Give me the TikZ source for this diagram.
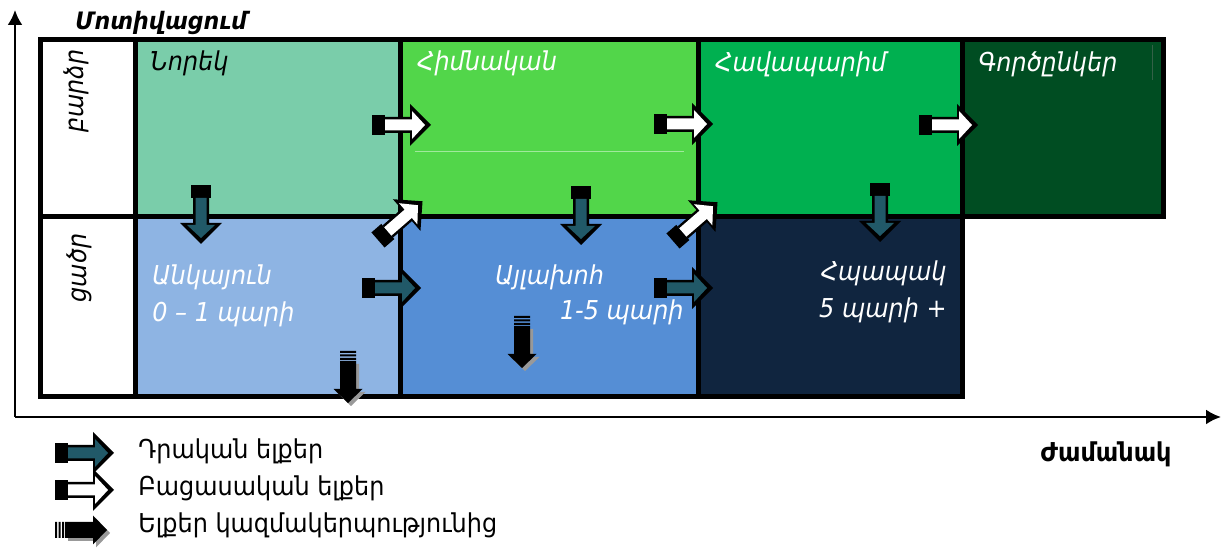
\documentclass[tikz,border=0pt]{standalone}
\usepackage{fontspec}
\setmainfont{DejaVu Sans}[FakeStretch=0.92]
\usetikzlibrary{arrows.meta}

\definecolor{newbie}{HTML}{7ACDAA}
\definecolor{core}{HTML}{52D64A}
\definecolor{loyal}{HTML}{00B050}
\definecolor{partner}{HTML}{004D22}
\definecolor{unstable}{HTML}{8EB4E3}
\definecolor{dissent}{HTML}{558ED5}
\definecolor{subject}{HTML}{10253F}
\definecolor{arrowteal}{HTML}{215968}

\begin{document}
\begin{tikzpicture}
[
    x = 0.5pt, y = -0.5pt,
    frame/.style = {line width=2.5pt},
    axis/.style  = {line width=1.2pt,
                    -{Latex[length=7.5pt,width=7.5pt]}},
    lbl/.style   = {inner sep=0pt,
                    font=\fontsize{13}{15}\selectfont\itshape},
    leg/.style   = {inner sep=0pt, anchor=base west,
                    font=\fontsize{13}{15}\selectfont},
    pics/blockarr/.style = {code={
        \fill (0,-10) rectangle (13,10);
        \fill (13,-8) -- (38,-8) -- (38,-21) -- (59,0) -- (38,21) -- (38,8) -- (13,8) -- cycle;
        \fill[#1] (13,-5.5) -- (40,-5.5) -- (40,-14) -- (53,0) -- (40,14) -- (40,5.5) -- (13,5.5) -- cycle;
    }},
    pics/exitarr/.style = {code={
        \fill[black!40, shift={(3,#1)}] (10,-8) -- (38,-8) -- (38,-14.5) -- (52,0) -- (38,14.5) -- (38,8) -- (10,8) -- cycle;
        \fill (0,-8) rectangle (2,8) (3.5,-8) rectangle (5.5,8) (7,-8) rectangle (9,8);
        \fill (10,-8) -- (38,-8) -- (38,-14.5) -- (52,0) -- (38,14.5) -- (38,8) -- (10,8) -- cycle;
    }}
]

\useasboundingbox (0,0) rectangle (1221,549);

% axes
\coordinate (origin) at (15,417);
\coordinate (ytop)   at (15,10);
\coordinate (xend)   at (1221,417);
\draw[axis] (origin) -- (ytop);
\draw[axis] (origin) -- (xend);

% cells
\fill[newbie]   (135,40)  rectangle (400,217);
\fill[core]     (400,40)  rectangle (698,217);
\fill[loyal]    (698,40)  rectangle (962,217);
\fill[partner]  (962,40)  rectangle (1163,217);
\fill[unstable] (135,217) rectangle (400,397);
\fill[dissent]  (400,217) rectangle (698,397);
\fill[subject]  (698,217) rectangle (962,397);
\draw[core!55!white, line width=0.4pt] (415,151) -- (684,151);
\draw[partner!60!gray, line width=0.4pt] (1152,45) -- (1152,80);

% borders
\draw[frame] (40,40) -- (1163,40) -- (1163,217) -- (40,217);
\draw[frame] (40,40) rectangle (962,397);
\draw[frame] (135,40) -- (135,397);
\draw[frame] (400,40) -- (400,397);
\draw[frame] (698,40) -- (698,397);

% texts
\node (motiv) [inner sep=0pt, anchor=base west,
               font=\fontsize{12}{15}\selectfont\bfseries\itshape] at (75,30) {Մոտիվացում};
\node (time) [inner sep=0pt, anchor=base east,
              font=\fontsize{13}{15}\selectfont\bfseries] at (1172,462) {Ժամանակ};
\node (high) [lbl, rotate=90] at (76,91) {բարձր};
\node (low)  [lbl, rotate=90] at (79,268) {ցածր};

\node (tnewbie)  [lbl, anchor=base west] at (150,71) {Նորեկ};
\node (tcore)    [lbl, anchor=base west, text=white] at (417,71) {Հիմնական};
\node (tloyal)   [lbl, anchor=base west, text=white] at (715,72) {Հավապարիմ};
\node (tpartner) [lbl, anchor=base west, text=white] at (978,72) {Գործընկեր};

\node (tunstable) [lbl, anchor=base west, text=white, align=left] at (152,322)
    {Անկայուն\\[3.5pt]0 – 1 պարի};
\node (tdissent) [lbl, anchor=base west, text=white] at (495,285) {Այլախոհ};
\node (tyears)   [lbl, anchor=base east, text=white] at (684,320) {1-5 պարի};
\node (tsubject) [lbl, anchor=base east, text=white, align=right] at (947,318)
    {Հպապակ\\[3.5pt]5 պարի +};

% arrows
\pic (w1) at (372,125) {blockarr=white};
\pic (w2) at (654,124) {blockarr=white};
\pic (w3) at (919,125) {blockarr=white};
\pic[rotate=41] (w4) at (378,240) {blockarr=white};
\pic[rotate=41] (w5) at (673,241) {blockarr=white};

\pic (t1) at (362,288) {blockarr=arrowteal};
\pic (t2) at (654,288) {blockarr=arrowteal};
\pic[rotate=-90] (t3) at (201,185) {blockarr=arrowteal};
\pic[rotate=-90] (t4) at (581,186) {blockarr=arrowteal};
\pic[rotate=-90] (t5) at (880,183) {blockarr=arrowteal};

\pic[rotate=-90] (x1) at (348,351) {exitarr=-3};
\pic[rotate=-90] (x2) at (522,316) {exitarr=-3};

% legend
\pic (l1) at (55,453) {blockarr=arrowteal};
\pic (l2) at (55,490) {blockarr=white};
\pic (l3) at (55,530) {exitarr=3};
\node (lpos)  [leg] at (138,459) {Դրական ելքեր};
\node (lneg)  [leg] at (138,496) {Բացասական ելքեր};
\node (lexit) [leg] at (138,533) {Ելքեր կազմակերպությունից};

\end{tikzpicture}
\end{document}
